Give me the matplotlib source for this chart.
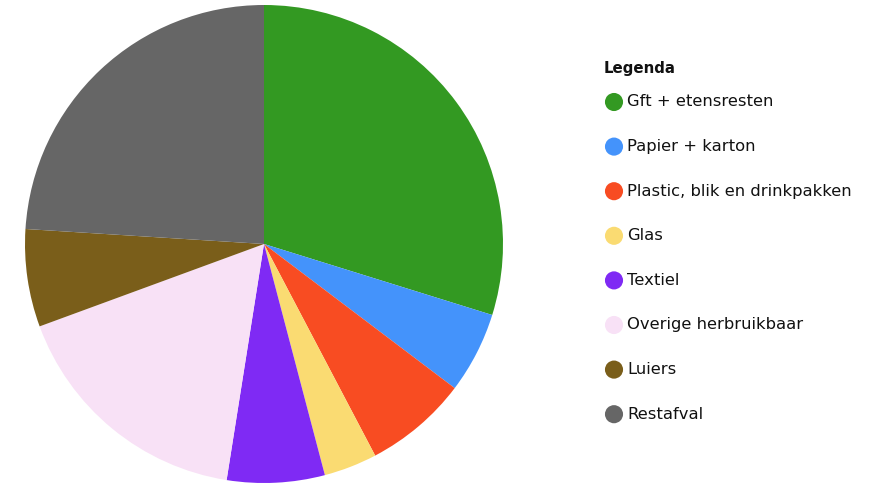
import matplotlib.pyplot as plt

# waste composition (share of total, %)
labels = ['Gft + etensresten', 'Papier + karton', 'Plastic, blik en drinkpakken',
          'Glas', 'Textiel', 'Overige herbruikbaar', 'Luiers', 'Restafval']
values = [29.8, 5.5, 7.0, 3.6, 6.6, 16.9, 6.6, 24.0]
colors = ['#339922', '#4493fb', '#f84c22', '#fadb72', '#7f2af4', '#f8e1f6', '#7a5e1a', '#666666']

W, H = 874, 483
fig = plt.figure(figsize=(W / 100, H / 100), dpi=100)

# pie: centre (264, 244) px, radius 239 px
cx, cy, r = 264, 244, 239
ax = fig.add_axes([(cx - r) / W, (H - cy - r) / H, 2 * r / W, 2 * r / H])
ax.pie(values, colors=colors, startangle=90, counterclock=False,
       radius=1, wedgeprops=dict(linewidth=0))
ax.set_xlim(-1, 1)
ax.set_ylim(-1, 1)
ax.set_aspect('equal')
ax.axis('off')

# legend drawn by hand on a pixel-space overlay
lg = fig.add_axes([0, 0, 1, 1])
lg.set_xlim(0, W)
lg.set_ylim(H, 0)
lg.axis('off')
font = 'DejaVu Sans'
lg.text(604, 68, 'Legenda', fontsize=10.8, fontweight='bold',
        family=font, va='center', ha='left', color='#111111')
y0, dy = 102, 44.6
ys = [y0 + i * dy for i in range(len(labels))]
lg.scatter([614] * len(labels), ys, s=170, c=colors, linewidths=0)
for y, lab in zip(ys, labels):
    lg.text(627, y, lab, fontsize=11.8, family=font, va='center', ha='left',
            color='#111111')

fig.savefig('out.png', dpi=100)
